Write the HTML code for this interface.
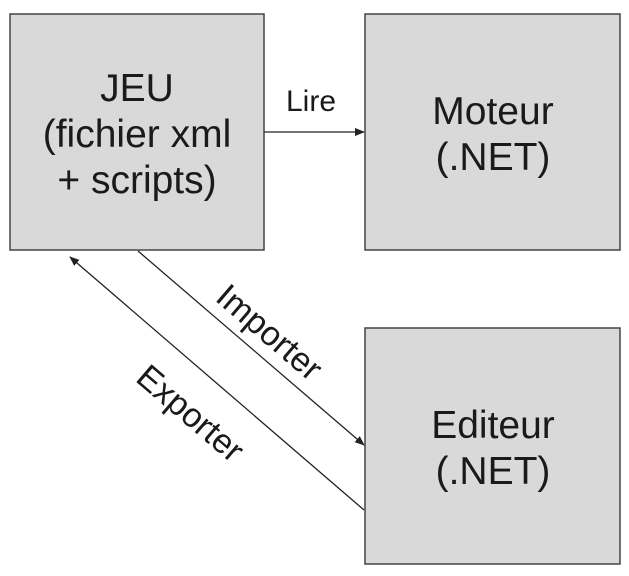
<!DOCTYPE html>
<html><head><meta charset="utf-8"><style>
html,body{margin:0;padding:0;background:#fff;}
svg{display:block;}
text{font-family:"Liberation Sans",Arial,sans-serif;fill:#1a1a1a;}
</style></head><body>
<svg width="629" height="576" viewBox="0 0 629 576" xmlns="http://www.w3.org/2000/svg">
<defs>
<marker id="a" markerWidth="10" markerHeight="8" refX="9" refY="4" orient="auto" markerUnits="userSpaceOnUse">
<path d="M0,0 L10,4 L0,8 z" fill="#222"/>
</marker>
</defs>
<rect x="10" y="14" width="254" height="236" fill="#d9d9d9" stroke="#444" stroke-width="1.5"/>
<rect x="365" y="14" width="255" height="236" fill="#d9d9d9" stroke="#444" stroke-width="1.5"/>
<rect x="365" y="328" width="255" height="236" fill="#d9d9d9" stroke="#444" stroke-width="1.5"/>
<g font-size="39" text-anchor="middle">
<text x="137" y="101">JEU</text>
<text x="137" y="147">(fichier xml</text>
<text x="137" y="193">+ scripts)</text>
<text x="493" y="124">Moteur</text>
<text x="493" y="170">(.NET)</text>
<text x="493" y="438">Editeur</text>
<text x="493" y="484">(.NET)</text>
</g>
<line x1="264" y1="132" x2="364" y2="132" stroke="#222" stroke-width="1.3" marker-end="url(#a)"/>
<text x="311" y="111" font-size="30" text-anchor="middle">Lire</text>
<line x1="138" y1="251" x2="364" y2="445" stroke="#222" stroke-width="1.3" marker-end="url(#a)"/>
<line x1="364" y1="510" x2="70" y2="257" stroke="#222" stroke-width="1.3" marker-end="url(#a)"/>
<text transform="translate(262,341) rotate(40.6)" font-size="34" text-anchor="middle">Importer</text>
<text transform="translate(183,422) rotate(40.6)" font-size="34" text-anchor="middle">Exporter</text>
</svg>
</body></html>
